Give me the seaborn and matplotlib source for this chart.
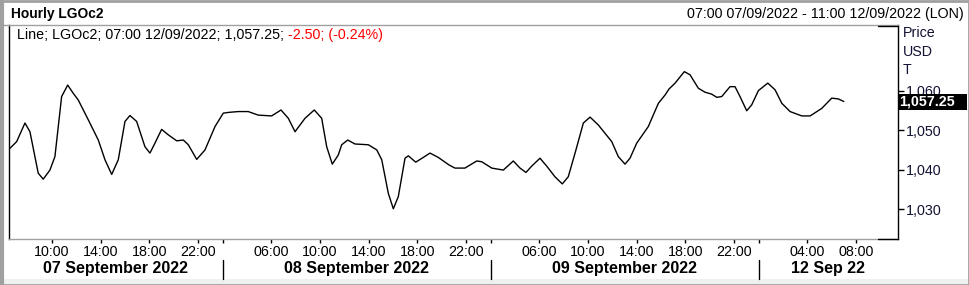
import numpy as np
import pandas as pd
import matplotlib
matplotlib.use("Agg")
import matplotlib.pyplot as plt
import matplotlib.transforms as mtransforms
from matplotlib.lines import Line2D
from matplotlib.patches import Rectangle
import seaborn as sns

# ---- data (positions in trading-hour steps from 07:00 07/09/2022) ----
steps = [-0.45, 0.10, 0.78, 1.19, 1.87, 2.28, 2.83, 3.24, 3.79, 4.29, 4.75, 5.16,
         5.98, 6.80, 7.35, 7.90, 8.44, 8.99, 9.40, 9.95, 10.63, 11.04, 11.45, 12.00,
         12.55, 13.24, 13.78, 14.19, 14.88, 15.56, 16.38, 17.06, 17.53, 18.29, 19.11,
         19.93, 21.03, 21.80, 22.40, 22.95, 23.77, 24.53, 25.14, 25.55, 26.01, 26.50,
         26.78, 27.28, 27.87, 28.97, 29.66, 30.07, 30.61, 31.02, 31.43, 31.98, 32.25,
         32.86, 33.48, 34.03, 34.71, 35.59, 36.08, 36.90, 37.87, 38.28, 39.10, 40.05,
         40.87, 41.42, 41.91, 42.38, 43.06, 43.61, 44.29, 44.89, 45.38, 45.94, 46.62,
         47.17, 47.85, 48.95, 49.49, 50.04, 50.45, 51.00, 51.95, 52.78, 53.33, 53.65,
         54.15, 54.91, 55.38, 56.06, 56.61, 57.16, 57.57, 57.98, 58.66, 59.07, 59.48,
         60.03, 60.44, 60.99, 61.76, 62.36, 62.91, 63.59, 64.55, 65.24, 66.19, 67.01,
         67.55, 68.00]
prices = [1045.4, 1047.1, 1051.8, 1049.6, 1039.1, 1037.6, 1039.9, 1043.3, 1058.5, 1061.4,
          1059.3, 1057.6, 1052.6, 1047.5, 1042.5, 1038.8, 1042.5, 1052.2, 1053.7, 1052.2,
          1045.8, 1044.2, 1046.7, 1050.2, 1048.8, 1047.3, 1047.5, 1046.3, 1042.6, 1045.0,
          1050.9, 1054.3, 1054.5, 1054.7, 1054.7, 1053.8, 1053.6, 1055.1, 1053.0, 1049.6,
          1053.0, 1055.1, 1053.0, 1045.8, 1041.4, 1043.7, 1046.3, 1047.5, 1046.5, 1046.3,
          1045.0, 1042.5, 1034.0, 1030.1, 1033.2, 1042.9, 1043.5, 1041.9, 1043.1, 1044.2,
          1043.1, 1041.2, 1040.4, 1040.4, 1042.2, 1042.0, 1040.4, 1039.9, 1042.2, 1040.4,
          1039.3, 1040.9, 1042.9, 1040.9, 1038.2, 1036.4, 1038.2, 1044.2, 1051.8, 1053.3,
          1051.3, 1047.1, 1043.3, 1041.4, 1042.9, 1046.7, 1050.9, 1056.8, 1058.9, 1060.4,
          1061.9, 1064.8, 1064.0, 1060.6, 1059.6, 1059.1, 1058.3, 1058.5, 1061.0, 1061.0,
          1058.5, 1054.9, 1056.4, 1060.0, 1061.9, 1060.2, 1056.8, 1054.7, 1053.6, 1053.6,
          1055.5, 1058.1, 1057.9, 1057.25]

hour_ticks = [3, 7, 11, 15, 21, 25, 29, 33, 37, 43, 47, 51, 55, 59, 65, 69]
hour_labels = ["10:00", "14:00", "18:00", "22:00", "06:00", "10:00", "14:00", "18:00",
               "22:00", "06:00", "10:00", "14:00", "18:00", "22:00", "04:00", "08:00"]
day_breaks = [17, 39, 61]
day_labels = ["07 September 2022", "08 September 2022", "09 September 2022", "12 Sep 22"]
y_ticks = [1030, 1040, 1050, 1060]
y_tick_labels = ["1,030", "1,040", "1,050", "1,060"]
last_label = "1,057.25"
last_price = 1057.25
title_left = "Hourly LGOc2"
title_right = "07:00 07/09/2022 - 11:00 12/09/2022 (LON)"
legend_black = "Line; LGOc2; 07:00 12/09/2022; 1,057.25; "
legend_red = "-2.50; (-0.24%)"
unit_labels = ["Price", "USD", "T"]

# ---- style ----
sns.set_theme(style="white")
plt.rcParams['font.family'] = ['Liberation Sans', 'DejaVu Sans']
FS = 10.3

W, H = 969, 285
fig = plt.figure(figsize=(W / 100, H / 100), dpi=100)
fig.patch.set_facecolor("white")


def fx(px):
    return px / W


def fy(py):
    return 1 - py / H


L, T, R, B = 9, 25, 898, 239
ax = fig.add_axes([fx(L), fy(B), fx(R) - fx(L), fy(T) - fy(B)])
ax.set_facecolor("white")

df = pd.DataFrame({"step": steps, "price": prices})
sns.lineplot(data=df, x="step", y="price", ax=ax, color="black", linewidth=1.0,
             estimator=None, sort=False)
ax.set_xlim(-0.53, 72.45)
ax.set_ylim(1022.46, 1076.6)
ax.set_xlabel("")
ax.set_ylabel("")

# spines
for s in ["left", "right"]:
    ax.spines[s].set_color("black")
    ax.spines[s].set_linewidth(1.0)
for s in ["top", "bottom"]:
    ax.spines[s].set_color("#a0a0a0")
    ax.spines[s].set_linewidth(1.0)

# x ticks
ax.set_xticks(hour_ticks)
ax.set_xticklabels(hour_labels)
ax.set_xticks(day_breaks, minor=True)
ax.tick_params(axis="x", which="both", direction="out", length=3, width=1,
               color="black", bottom=True, labelsize=FS, pad=1.5, labelcolor="black")

# y ticks on right
ax.yaxis.tick_right()
ax.set_yticks(y_ticks)
ax.set_yticklabels(y_tick_labels)
ax.tick_params(axis="y", which="both", direction="out", length=4, width=1,
               color="black", right=True, left=False, labelsize=FS, pad=1.5,
               labelcolor="#111133")

# day separators & labels
blend = mtransforms.blended_transform_factory(ax.transData, fig.transFigure)
for xb in day_breaks:
    fig.add_artist(Line2D([xb, xb], [fy(260), fy(279)], transform=blend,
                          color="black", lw=1))
bounds = [ax.get_xlim()[0]] + day_breaks + [ax.get_xlim()[1]]
for i, lab in enumerate(day_labels):
    xm = (bounds[i] + bounds[i + 1]) / 2
    fig.text(xm, fy(268.5), lab, transform=blend, ha="center", va="center",
             fontsize=11.5, fontweight="bold", color="black")

# last price tag (covers part of the 1,060 label as in the original)
fig.add_artist(Rectangle((fx(898), fy(110)), fx(967) - fx(898), fy(94) - fy(110),
                         transform=fig.transFigure, fc="black", ec="none", zorder=5))
fig.add_artist(matplotlib.text.Text(fx(899), fy(102), last_label, ha="left", va="center",
                                    fontsize=FS, fontweight="bold", color="white",
                                    transform=fig.transFigure, zorder=6))

# unit labels
for lab, yy in zip(unit_labels, [33, 51.5, 69.5]):
    fig.text(fx(903), fy(yy), lab, ha="left", va="center", fontsize=FS, color="#111133")

# titles
fig.text(fx(11), fy(14), title_left, ha="left", va="center", fontsize=9.9,
         fontweight="bold", color="black")
fig.text(fx(964), fy(14), title_right, ha="right", va="center", fontsize=FS,
         color="black")

# legend line
t1 = fig.text(fx(17), fy(35), legend_black, ha="left", va="center", fontsize=FS,
              color="black")
fig.canvas.draw()
bb = t1.get_window_extent(renderer=fig.canvas.get_renderer())
fig.text(bb.x1 / W, fy(35), legend_red, ha="left", va="center", fontsize=FS,
         color="#ff0000")

# frame decorations
fig.add_artist(Line2D([fx(0), fx(L)], [fy(25), fy(25)], transform=fig.transFigure,
                      color="#a0a0a0", lw=1))
fig.add_artist(Line2D([fx(878), fx(R)], [fy(25.5), fy(25.5)], transform=fig.transFigure,
                      color="black", lw=1))
fig.add_artist(Line2D([fx(878), fx(R)], [fy(239), fy(239)], transform=fig.transFigure,
                      color="black", lw=1))
fig.add_artist(Rectangle((0, 0), 1, fy(279), transform=fig.transFigure,
                         fc="#f0f0f0", ec="none", zorder=-2))
fig.add_artist(Rectangle((0.5 / W, 0.5 / H), 1 - 1 / W, 1 - 1 / H, transform=fig.transFigure,
                         fill=False, ec="#a0a0a0", lw=2))
fig.add_artist(Line2D([fx(1.5), fx(1.5)], [0, 1], transform=fig.transFigure,
                      color="#a0a0a0", lw=3))

fig.savefig("out.png", dpi=100)
